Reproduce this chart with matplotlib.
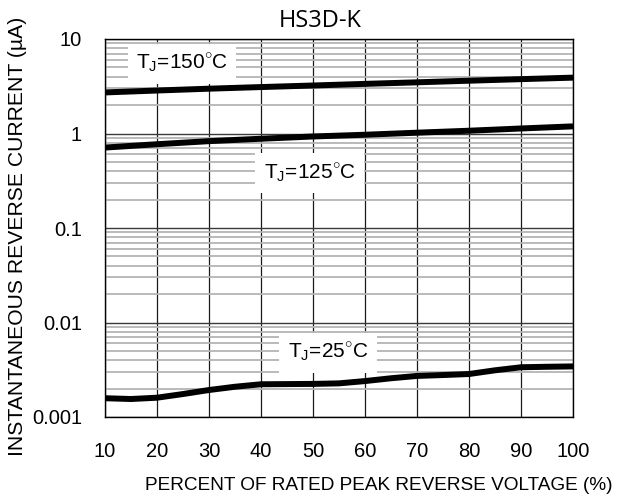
import matplotlib.pyplot as plt
from matplotlib.ticker import LogLocator, FixedLocator

plt.rcParams["font.family"] = ["Liberation Sans", "DejaVu Sans"]
plt.rcParams["mathtext.fontset"] = "custom"
plt.rcParams["mathtext.rm"] = "Liberation Sans"

# percent of rated peak reverse voltage
voltage_pct = [10, 20, 30, 40, 50, 60, 70, 80, 90, 100]
voltage_pct_25 = [10, 15, 20, 25, 30, 35, 40, 45, 50, 55, 60, 65, 70, 75, 80, 85, 90, 95, 100]

# reverse current (uA) per junction temperature
current_150 = [2.72, 2.85, 2.98, 3.1, 3.22, 3.35, 3.48, 3.62, 3.76, 3.9]
current_125 = [0.71, 0.77, 0.83, 0.88, 0.93, 0.97, 1.02, 1.07, 1.13, 1.19]
current_25 = [0.00158, 0.00155, 0.0016, 0.00175, 0.00193, 0.00209, 0.00222, 0.00223, 0.00224,
              0.00227, 0.0024, 0.00257, 0.00272, 0.00278, 0.00285, 0.00312, 0.00336, 0.0034, 0.00343]

x_ticks = [10, 20, 30, 40, 50, 60, 70, 80, 90, 100]
y_ticks = [0.001, 0.01, 0.1, 1, 10]
y_tick_labels = ["0.001", "0.01", "0.1", "1", "10"]

fig = plt.figure(figsize=(6.19, 5), dpi=100)
ax = fig.add_axes([0.1696, 0.166, 0.7561, 0.756])

ax.set_yscale("log")
ax.set_xlim(10, 100)
ax.set_ylim(0.001, 10)

# grid
ax.yaxis.set_minor_locator(LogLocator(base=10, subs=range(2, 10)))
ax.grid(which="minor", axis="y", color="#b4b4b4", linewidth=1.3)
ax.grid(which="major", axis="y", color="#3a3a3a", linewidth=1.0)
ax.xaxis.set_major_locator(FixedLocator(x_ticks))
ax.grid(which="major", axis="x", color="#1a1a1a", linewidth=0.9)
ax.set_axisbelow(True)

line_kw = dict(color="black", linewidth=4.3, solid_capstyle="butt",
               solid_joinstyle="round", zorder=3)
ax.plot(voltage_pct, current_150, **line_kw)
ax.plot(voltage_pct, current_125, **line_kw)
ax.plot(voltage_pct_25, current_25, **line_kw)

box = dict(facecolor="white", edgecolor="none", pad=6)
ax.text(24.8, 5.5, r"T$_\mathrm{J}$=150$^{\circ}$C", fontsize=15, ha="center", va="center", bbox=box, zorder=2)
ax.text(49.4, 0.38, r"T$_\mathrm{J}$=125$^{\circ}$C", fontsize=15, ha="center", va="center", bbox=box, zorder=2)
ax.text(52.9, 0.0048, r"T$_\mathrm{J}$=25$^{\circ}$C", fontsize=15, ha="center", va="center", bbox=box, zorder=2)

ax.set_xticks(x_ticks)
ax.set_xticklabels([str(v) for v in x_ticks])
ax.set_yticks(y_ticks)
ax.set_yticklabels(y_tick_labels)
ax.tick_params(axis="both", which="both", length=0, labelsize=14.5)
ax.tick_params(axis="x", pad=18)
ax.tick_params(axis="y", pad=16.5)

for spine in ax.spines.values():
    spine.set_linewidth(1.0)
    spine.set_color("black")

fig.text(0.6115, 0.03, "PERCENT OF RATED PEAK REVERSE VOLTAGE (%)", fontsize=13.7,
         ha="center", va="center")
fig.text(0.029, 0.528, "INSTANTANEOUS REVERSE CURRENT (\u00b5A)", fontsize=15.2,
         rotation=90, ha="center", va="center")
fig.text(0.517, 0.958, "HS3D-K", fontsize=17, family=["Open Sans", "DejaVu Sans"],
         ha="center", va="center")

fig.savefig("out.png", dpi=100)
